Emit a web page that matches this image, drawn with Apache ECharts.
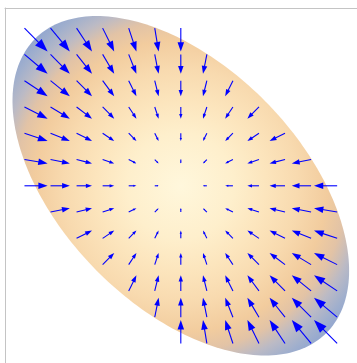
<!DOCTYPE html>
<html>
<head>
<meta charset="utf-8">
<script src="https://cdn.jsdelivr.net/npm/echarts@6/dist/echarts.min.js"></script>
<style>
html,body{margin:0;padding:0;background:#ffffff;}
#chart{width:357px;height:363px;}
</style>
</head>
<body>
<div id="chart"></div>
<script>
// grid positions of the vector samples
const gridX = [-6,-5,-4,-3,-2,-1,0,1,2,3,4,5,6];
const gridY = [6,5,4,3,2,1,0,-1,-2,-3,-4,-5,-6];
const n = null;
// horizontal components (rows follow gridY, columns follow gridX); null = outside region
const U = [
  [6,5,4,3,2,1,0,n,n,n,n,n,n],
  [6,5,4,3,2,1,0,-1,n,n,n,n,n],
  [6,5,4,3,2,1,0,-1,-2,n,n,n,n],
  [6,5,4,3,2,1,0,-1,-2,-3,n,n,n],
  [6,5,4,3,2,1,0,-1,-2,-3,-4,n,n],
  [6,5,4,3,2,1,0,-1,-2,-3,-4,-5,n],
  [6,5,4,3,2,1,0,-1,-2,-3,-4,-5,-6],
  [n,5,4,3,2,1,0,-1,-2,-3,-4,-5,-6],
  [n,n,4,3,2,1,0,-1,-2,-3,-4,-5,-6],
  [n,n,n,3,2,1,0,-1,-2,-3,-4,-5,-6],
  [n,n,n,n,2,1,0,-1,-2,-3,-4,-5,-6],
  [n,n,n,n,n,1,0,-1,-2,-3,-4,-5,-6],
  [n,n,n,n,n,n,0,-1,-2,-3,-4,-5,-6]
];
// vertical components
const V = [
  [-6,-6,-6,-6,-6,-6,-6,n,n,n,n,n,n],
  [-5,-5,-5,-5,-5,-5,-5,-5,n,n,n,n,n],
  [-4,-4,-4,-4,-4,-4,-4,-4,-4,n,n,n,n],
  [-3,-3,-3,-3,-3,-3,-3,-3,-3,-3,n,n,n],
  [-2,-2,-2,-2,-2,-2,-2,-2,-2,-2,-2,n,n],
  [-1,-1,-1,-1,-1,-1,-1,-1,-1,-1,-1,-1,n],
  [0,0,0,0,0,0,0,0,0,0,0,0,0],
  [n,1,1,1,1,1,1,1,1,1,1,1,1],
  [n,n,2,2,2,2,2,2,2,2,2,2,2],
  [n,n,n,3,3,3,3,3,3,3,3,3,3],
  [n,n,n,n,4,4,4,4,4,4,4,4,4],
  [n,n,n,n,n,5,5,5,5,5,5,5,5],
  [n,n,n,n,n,n,6,6,6,6,6,6,6]
];
// region: x^2 + x*y + y^2 <= regionLevel
const regionLevel = 36.5;
const gradRadius = 8.8;
const gradStops = [
  {offset:0, color:'#FFF7DC'},
  {offset:0.25, color:'#FEEFCC'},
  {offset:0.4, color:'#FCE5BD'},
  {offset:0.55, color:'#F8DAAF'},
  {offset:0.69, color:'#F2CC9E'},
  {offset:0.78, color:'#E2C3A6'},
  {offset:0.86, color:'#BBBAC5'},
  {offset:0.93, color:'#A0AFCD'},
  {offset:1, color:'#8DA3D0'}
];
const arrowScale = 0.16;

const arrows = [];
for (let r = 0; r < gridY.length; r++) {
  for (let c = 0; c < gridX.length; c++) {
    const u = U[r][c], v = V[r][c];
    if (u === null || v === null) continue;
    if (u === 0 && v === 0) continue;
    arrows.push([gridX[c], gridY[r], u, v]);
  }
}

const frameLine = {show:true, onZero:false, lineStyle:{color:'#C4C4C4', width:1}};
const chart = echarts.init(document.getElementById('chart'), null, {renderer:'canvas'});
chart.setOption({
  animation: false,
  backgroundColor: '#ffffff',
  grid: {left: 5, top: 8, width: 356, height: 356, show: false},
  xAxis: {type:'value', position:'top', min:-7.287, max:7.303, axisLine:frameLine, axisTick:{show:false}, axisLabel:{show:false}, splitLine:{show:false}},
  yAxis: {type:'value', position:'left', min:-7.283, max:7.307, axisLine:frameLine, axisTick:{show:false}, axisLabel:{show:false}, splitLine:{show:false}},
  series: [
    {
      type: 'custom',
      data: [[0,0]],
      silent: true,
      renderItem: function(params, api) {
        const pts = [];
        const a = Math.sqrt(regionLevel / 1.5), b = Math.sqrt(regionLevel / 0.5);
        for (let i = 0; i < 240; i++) {
          const t = 2 * Math.PI * i / 240;
          const p = a * Math.cos(t), q = b * Math.sin(t);
          pts.push(api.coord([(p + q) / Math.SQRT2, (p - q) / Math.SQRT2]));
        }
        const c = api.coord([0,0]);
        const rr = api.coord([gradRadius,0])[0] - c[0];
        return {type:'polygon', shape:{points:pts}, style:{fill: new echarts.graphic.RadialGradient(c[0], c[1], rr, gradStops, true), stroke:null}};
      }
    },
    {
      type: 'custom',
      data: arrows,
      silent: true,
      renderItem: function(params, api) {
        const x = api.value(0), y = api.value(1), u = api.value(2), v = api.value(3);
        const h = arrowScale / 2;
        const t0 = api.coord([x - u*h, y - v*h]);
        const t1 = api.coord([x + u*h, y + v*h]);
        const dx = t1[0]-t0[0], dy = t1[1]-t0[1];
        const L = Math.sqrt(dx*dx+dy*dy);
        const ux = dx/L, uy = dy/L;
        const hl = 0.4*L, hw = 0.14*L;
        const bx = t1[0]-ux*hl, by = t1[1]-uy*hl;
        return {type:'group', children:[
          {type:'line', shape:{x1:t0[0], y1:t0[1], x2:bx+ux*1, y2:by+uy*1}, style:{stroke:'#0000FF', lineWidth:1.1}},
          {type:'polygon', shape:{points:[[t1[0],t1[1]],[bx-uy*hw, by+ux*hw],[bx+uy*hw, by-ux*hw]]}, style:{fill:'#0000FF'}}
        ]};
      }
    }
  ]
});
</script>
</body>
</html>
